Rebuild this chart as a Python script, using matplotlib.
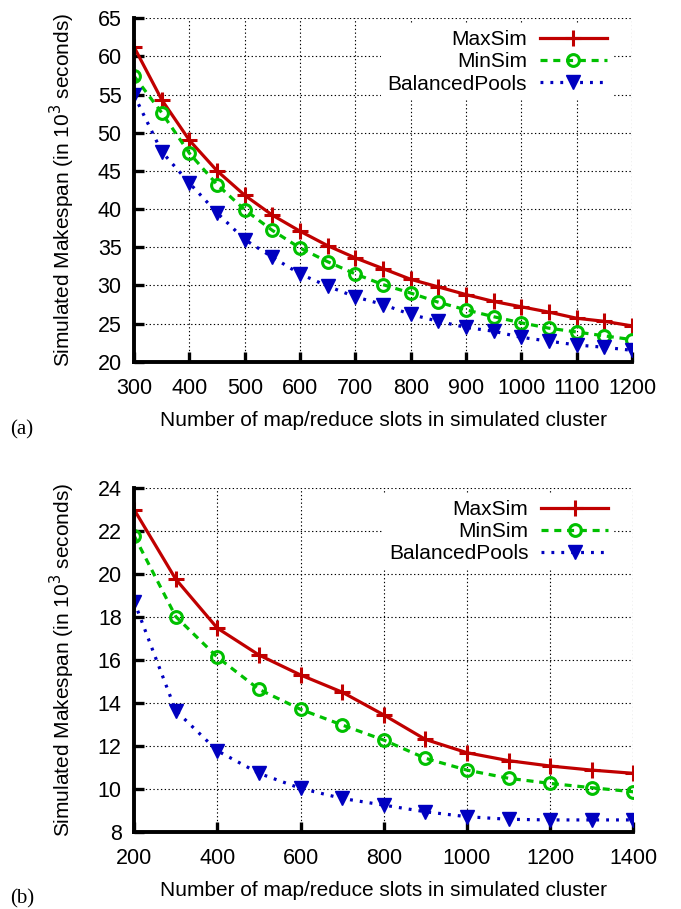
import matplotlib
matplotlib.use("Agg")
import matplotlib.pyplot as plt

plt.rcParams['font.family'] = ['Liberation Sans', 'DejaVu Sans']

# (a) 300..1200 slots
slots_a = [300, 350, 400, 450, 500, 550, 600, 650, 700, 750,
           800, 850, 900, 950, 1000, 1050, 1100, 1150, 1200]
maxsim_a = [61.2, 54.3, 49.0, 45.0, 41.8, 39.2, 37.1, 35.2, 33.6, 32.2,
            30.8, 29.8, 28.8, 27.9, 27.2, 26.5, 25.7, 25.3, 24.7]
minsim_a = [57.4, 52.6, 47.3, 43.2, 39.9, 37.2, 34.9, 33.1, 31.5, 30.1,
            29.0, 27.8, 26.8, 25.9, 25.1, 24.4, 23.9, 23.4, 22.9]
balanced_a = [54.9, 47.5, 43.4, 39.5, 36.0, 33.7, 31.5, 29.9, 28.5, 27.5,
              26.2, 25.3, 24.5, 24.0, 23.2, 22.7, 22.2, 21.9, 21.5]

# (b) 200..1400 slots
slots_b = [200, 300, 400, 500, 600, 700, 800, 900, 1000, 1100, 1200, 1300, 1400]
maxsim_b = [23.0, 19.76, 17.48, 16.23, 15.3, 14.5, 13.44, 12.3, 11.68, 11.31, 11.06, 10.87, 10.72]
minsim_b = [21.78, 18.02, 16.13, 14.63, 13.7, 12.97, 12.27, 11.42, 10.87, 10.49, 10.25, 10.05, 9.86]
balanced_b = [18.72, 13.64, 11.77, 10.72, 10.02, 9.55, 9.24, 8.93, 8.7, 8.58, 8.55, 8.55, 8.55]

xlabel = "Number of map/reduce slots in simulated cluster"
ylabel = "Simulated Makespan (in 10$^3$ seconds)"

RED, GREEN, BLUE = "#c00000", "#00c000", "#0000c0"
FS = 15


def draw(ax, x, ymax, ymin, ybal, xlim, xticks, ylim, yticks):
    ax.plot(x, ymax, color=RED, lw=2.3, marker='+', ms=12, mew=2.2, label="MaxSim")
    ax.plot(x, ymin, color=GREEN, lw=2.3, dashes=(2.2, 1.8), marker='o', ms=8.5,
            mfc='none', mew=2.2, label="MinSim")
    ax.plot(x, ybal, color=BLUE, lw=2.3, dashes=(0.9, 2.2), marker='v', ms=9.5,
            label="BalancedPools")
    ax.set_xlim(*xlim)
    ax.set_ylim(*ylim)
    ax.set_xticks(xticks)
    ax.set_yticks(yticks)
    ax.grid(True, color='black', ls=(0, (1.2, 2.2)), lw=0.8)
    ax.set_axisbelow(True)
    for s in ('top', 'right'):
        ax.spines[s].set_visible(False)
    for s in ('left', 'bottom'):
        ax.spines[s].set_linewidth(2.8)
    ax.tick_params(direction='in', length=7, width=2.4, labelsize=15.5,
                   top=False, right=False)
    ax.tick_params(axis='x', pad=11.5)
    ax.tick_params(axis='y', pad=9)
    ax.set_xlabel(xlabel, fontsize=FS, labelpad=9)
    ax.set_ylabel(ylabel, fontsize=FS, labelpad=15)
    leg = ax.legend(loc='upper right', bbox_to_anchor=(0.962, 0.983), fontsize=FS,
                    markerfirst=False, handlelength=3.2, handletextpad=0.63,
                    labelspacing=0.15, borderaxespad=0, borderpad=0.3,
                    frameon=True, fancybox=False)
    leg.get_frame().set_edgecolor('none')
    leg.get_frame().set_facecolor('white')
    leg.get_frame().set_alpha(1)
    leg._legend_box.align = 'right'


fig = plt.figure(figsize=(6.81, 9.09), dpi=100)
ax1 = fig.add_axes([0.197, 0.602, 0.731, 0.378])
ax2 = fig.add_axes([0.197, 0.085, 0.733, 0.378])

draw(ax1, slots_a, maxsim_a, minsim_a, balanced_a, (300, 1200),
     range(300, 1201, 100), (20, 65), range(20, 66, 5))
draw(ax2, slots_b, maxsim_b, minsim_b, balanced_b, (200, 1400),
     range(200, 1401, 200), (8, 24), range(8, 25, 2))

fig.text(0.015, 0.527, "(a)", family='Liberation Serif', fontsize=FS, va='center')
fig.text(0.015, 0.011, "(b)", family='Liberation Serif', fontsize=FS, va='center')

fig.savefig("out.png", dpi=100)
